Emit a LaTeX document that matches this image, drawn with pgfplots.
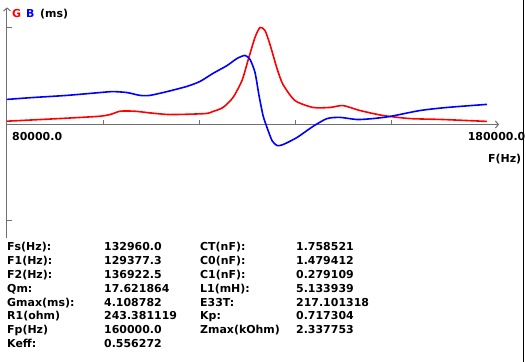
\documentclass[border=0pt]{standalone}
\usepackage{fontspec}
\setmainfont{DejaVu Sans}
\usepackage{pgfplots}
\pgfplotsset{compat=1.18}
\usetikzlibrary{arrows.meta}
\definecolor{axgray}{HTML}{707070}
\begin{document}
\begin{tikzpicture}[font=\fontsize{11}{13}\selectfont\bfseries]
\fill[white] (0,0) rectangle (526bp,361bp);
\begin{axis}[at={(0,0)},anchor=south west, scale only axis,
  width=526bp, height=361bp,
  xmin=78545, xmax=187900, ymin=-10.018, ymax=5.241,
  hide axis, clip=false]
% axes
\draw[axgray, line width=1bp, -{Straight Barb[length=3bp,width=7bp]}] (axis cs:80000,-4.777) -- (axis cs:80000,4.95);
\draw[axgray, line width=1bp, -{Straight Barb[length=3bp,width=7bp]}] (axis cs:80000,0) -- (axis cs:182300,0);
\draw[axgray, line width=1bp] (axis cs:80000,4.1) -- (axis cs:81040,4.1);
\draw[axgray, line width=1bp] (axis cs:80000,-4.06) -- (axis cs:81040,-4.06);
\pgfplotsinvokeforeach{100000,120000,140000,160000}{
  \draw[axgray, line width=1bp] (axis cs:#1,0) -- (axis cs:#1,0.19);
}
% G (conductance)
\addplot[red, line width=1.6bp, smooth, tension=0.4] coordinates {
(80000,0.14) (99335,0.35) (103490,0.56) (106610,0.56) (109730,0.49)
(113890,0.42) (121160,0.46) (122830,0.55) (124910,0.72) (126990,1.14)
(128860,1.86) (130110,2.71) (131560,3.68) (132600,4.10) (133640,3.97)
(134680,3.38) (136130,2.37) (137380,1.69) (139880,1.01) (143620,0.72)
(147150,0.72) (149860,0.80) (153390,0.59) (158170,0.38) (163780,0.25)
(170640,0.21) (179790,0.13)};
% B (susceptance)
\addplot[blue, line width=1.6bp, smooth, tension=0.4] coordinates {
(80000,1.06) (85410,1.14) (92470,1.23) (99335,1.35) (102040,1.39)
(104950,1.35) (107650,1.23) (109730,1.23) (113270,1.39) (117420,1.61)
(120130,1.82) (122830,2.16) (125740,2.49) (127820,2.79) (129480,2.92)
(130520,2.75) (131560,2.20) (132390,1.23) (133230,0.38) (134060,-0.13)
(135100,-0.68) (136130,-0.89) (137380,-0.85) (140290,-0.55) (143620,-0.08)
(146530,0.25) (149240,0.30) (152770,0.21) (156090,0.25) (159630,0.34)
(165860,0.59) (171480,0.72) (179790,0.85)};
\end{axis}
\draw[black, line width=1bp] (523.5bp,0) -- (523.5bp,361bp);
\path[use as bounding box] (0,0) rectangle (526bp,361bp);
\begin{scope}[every node/.style={anchor=base west, inner sep=0pt}]
\node[red] at (12bp,344bp) {G};
\node[blue] at (26bp,344bp) {B};
\node at (40bp,344bp) {(ms)};
\node at (12bp,221bp) {80000.0};
\node[anchor=base east] at (525.5bp,221bp) {180000.0};
\node at (488bp,199bp) {F(Hz)};
\newcommand\rowx[5]{%
  \node at (7bp,#1) {#2};
  \node at (104bp,#1) {#3};
  \node at (200bp,#1) {#4};
  \node at (296bp,#1) {#5};}
\rowx{110.5bp}{Fs(Hz):}{132960.0}{CT(nF):}{1.758521}
\rowx{96.7bp}{F1(Hz):}{129377.3}{C0(nF):}{1.479412}
\rowx{82.9bp}{F2(Hz):}{136922.5}{C1(nF):}{0.279109}
\rowx{69.1bp}{Qm:}{17.621864}{L1(mH):}{5.133939}
\rowx{55.3bp}{Gmax(ms):}{4.108782}{E33T:}{217.101318}
\rowx{41.5bp}{R1(ohm)}{243.381119}{Kp:}{0.717304}
\rowx{27.7bp}{Fp(Hz)}{160000.0}{Zmax(kOhm)}{2.337753}
\node at (7bp,13.9bp) {Keff:};
\node at (104bp,13.9bp) {0.556272};
\end{scope}
\end{tikzpicture}
\end{document}
